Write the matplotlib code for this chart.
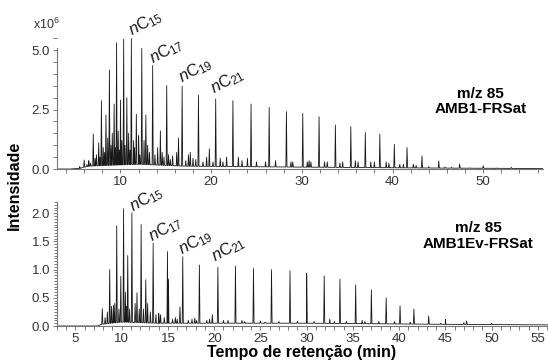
import numpy as np
import matplotlib
matplotlib.use('Agg')
import matplotlib.pyplot as plt
from matplotlib.ticker import MultipleLocator, FormatStrFormatter

plt.rcParams['font.family'] = ['Liberation Sans', 'DejaVu Sans']
plt.rcParams['mathtext.fontset'] = 'custom'
plt.rcParams['mathtext.rm'] = 'Liberation Sans'
plt.rcParams['mathtext.it'] = 'Liberation Sans:italic'
plt.rcParams['mathtext.bf'] = 'Liberation Sans:bold'

# AMB1-FRSat (x10^6) - picos principais
t1_main = [7.0, 7.6, 7.9, 8.4, 8.78, 9.3, 9.57, 10.0, 10.35, 10.7, 11.2, 11.75,
           12.35, 12.8, 13.55, 14.4, 15.1, 16.8, 18.6, 20.5, 22.4, 24.4, 26.4,
           28.3, 30.1, 31.9, 33.7, 35.4, 37.0, 38.6, 40.2, 41.6, 43.25, 45.1,
           47.4, 50.0, 53.1]
h1_main = [1.47, 1.1, 2.87, 2.27, 4.16, 2.73, 5.3, 2.9, 5.45, 3.0, 5.49, 2.3,
           5.07, 2.27, 4.35, 1.6, 3.5, 3.48, 3.1, 2.94, 2.87, 2.73, 2.59,
           2.41, 2.34, 2.2, 1.85, 1.78, 1.53, 1.46, 1.04, 0.9, 0.55, 0.34,
           0.21, 0.14, 0.07]
# picos menores
t1_min = [5.5, 6.0, 6.3, 6.5, 6.7, 7.2, 7.35, 7.75, 8.1, 8.25, 8.6, 8.95, 9.1,
          9.45, 9.75, 9.9, 10.15, 10.5, 10.9, 11.05, 11.45, 11.55, 12.0, 12.15,
          12.6, 13.0, 13.2, 13.8, 14.1, 14.6, 14.8, 15.3, 15.5, 15.75, 16.2,
          16.4, 17.2, 17.5, 17.7, 18.0, 18.3, 19.1, 19.5, 19.8, 20.2, 21.0,
          21.3, 21.7, 23.0, 23.4, 24.0, 25.0, 26.0, 27.1, 28.8, 29.0, 30.6,
          30.8, 31.0, 32.5, 32.8, 34.2, 34.5, 35.9, 36.2, 37.6, 38.0, 39.3,
          39.6, 40.8, 41.2, 42.3, 42.6, 44.0, 45.8, 46.5, 48.5, 51.5]
h1_min = [0.1, 0.38, 0.2, 0.35, 0.25, 0.45, 0.6, 0.5, 0.9, 0.7, 1.3, 1.0, 1.5,
          0.9, 1.6, 0.8, 1.2, 1.0, 1.5, 0.8, 1.2, 0.9, 1.4, 0.6,
          1.2, 1.0, 0.7, 0.6, 0.9, 0.7, 0.5, 0.6, 0.4, 0.55, 0.7,
          1.3, 0.35, 0.6, 0.7, 0.45, 0.4, 0.3, 0.5, 0.85, 0.3, 0.45,
          0.3, 0.5, 0.5, 0.35, 0.45, 0.3, 0.3, 0.35, 0.3, 0.3, 0.3,
          0.35, 0.3, 0.3, 0.3, 0.25, 0.3, 0.35, 0.3, 0.3, 0.3, 0.3,
          0.25, 0.2, 0.2, 0.2, 0.15, 0.1, 0.08, 0.07, 0.05, 0.04]
base1_t = [3.0, 4.5, 5.5, 6.5, 12.0, 17.0, 30.0, 45.0, 56.6]
base1_y = [0.0, 0.0, 0.03, 0.12, 0.2, 0.12, 0.08, 0.04, 0.02]

# AMB1Ev-FRSat
t2_main = [7.9, 8.7, 9.46, 10.2, 10.65, 11.1, 12.1, 13.4, 14.95, 16.6, 18.4,
           20.4, 22.3, 24.25, 26.2, 28.2, 30.0, 31.9, 33.6, 35.3, 37.0, 38.6,
           40.1, 41.6, 43.2, 45.0, 47.3, 50.0]
h2_main = [0.31, 1.0, 1.78, 2.08, 1.25, 2.01, 1.8, 1.47, 1.32, 1.23, 1.08,
           1.04, 1.06, 1.02, 1.0, 0.98, 0.94, 0.89, 0.83, 0.73, 0.64, 0.5,
           0.36, 0.3, 0.18, 0.12, 0.09, 0.05]
t2_min = [8.2, 8.45, 8.9, 9.1, 9.25, 9.7, 9.9, 10.4, 10.5, 10.85, 11.45, 11.65,
          11.9, 12.35, 12.6, 12.8, 13.1, 13.7, 14.0, 14.2, 14.6, 15.05, 15.5,
          15.8, 16.0, 16.3, 17.2, 17.6, 17.9, 18.1, 19.2, 19.5, 19.8, 21.0,
          21.5, 23.0, 23.3, 25.0, 25.5, 27.0, 29.0, 30.8, 32.5, 33.0, 34.3,
          36.0, 36.3, 37.8, 39.5, 41.2, 44.5, 47.0]
h2_min = [0.15, 0.25, 0.35, 0.37, 0.4, 0.3, 0.88, 0.6, 0.35, 0.3, 0.4, 0.59,
          0.3, 0.3, 0.82, 0.4, 0.25, 0.2, 0.23, 0.2, 0.15, 0.83, 0.12,
          0.15, 0.12, 0.34, 0.1, 0.12, 0.14, 0.1, 0.1, 0.12, 0.2, 0.1,
          0.1, 0.1, 0.08, 0.09, 0.07, 0.08, 0.08, 0.08, 0.12, 0.08, 0.08,
          0.1, 0.08, 0.08, 0.08, 0.07, 0.05, 0.06]
base2_t = [3.0, 7.4, 7.8, 10.0, 14.0, 30.0, 45.0, 56.1]
base2_y = [0.0, 0.0, 0.03, 0.07, 0.05, 0.05, 0.03, 0.02]

labels = [r'$\mathit{n}$C$_{15}$', r'$\mathit{n}$C$_{17}$',
          r'$\mathit{n}$C$_{19}$', r'$\mathit{n}$C$_{21}$']
lab1_x = [11.3, 13.6, 16.8, 20.3]
lab1_y = [5.59, 4.41, 3.6, 3.15]
lab2_x = [11.15, 13.3, 16.5, 20.1]
lab2_y = [2.02, 1.49, 1.26, 1.14]


def trace(t_pk, h_pk, bt, by, w=0.06):
    # linha do cromatograma: linha de base + picos estreitos
    pts = list(zip(bt, by))
    for t, h in zip(t_pk, h_pk):
        b = np.interp(t, bt, by)
        pts += [(t - w, b), (t, h), (t + w, b)]
    pts.sort(key=lambda p: p[0])
    x, y = zip(*pts)
    return x, y


fig = plt.figure(figsize=(5.48, 3.63), dpi=100)
ax1 = fig.add_axes([0.104, 0.5344, 0.887, 0.377])
ax2 = fig.add_axes([0.104, 0.1019, 0.896, 0.3416])

x, y = trace(t1_main + t1_min, h1_main + h1_min, base1_t, base1_y)
ax1.plot(x, y, color='#1a1a1a', lw=0.6)
x, y = trace(t2_main + t2_min, h2_main + h2_min, base2_t, base2_y)
ax2.plot(x, y, color='#1a1a1a', lw=0.6)

ax1.set_xlim(3, 56.6)
ax1.set_ylim(0, 5.75)
ax2.set_xlim(3, 56.1)
ax2.set_ylim(0, 2.2)

for ax in (ax1, ax2):
    ax.spines['top'].set_visible(False)
    ax.spines['right'].set_visible(False)
    for s in ('left', 'bottom'):
        ax.spines[s].set_color('#777777')
        ax.spines[s].set_linewidth(0.8)
    ax.tick_params(which='both', direction='out', color='#777777', length=3,
                   width=0.7, labelsize=9.5, labelcolor='#333333', pad=2)
    ax.yaxis.set_major_formatter(FormatStrFormatter('%.1f'))

ax1.spines['left'].set_bounds(0, 5.1)
ax1.xaxis.set_major_locator(MultipleLocator(10))
ax1.xaxis.set_minor_locator(MultipleLocator(2))
ax1.yaxis.set_major_locator(MultipleLocator(2.5))
ax1.yaxis.set_minor_locator(MultipleLocator(0.5))
ax1.set_yticks([0, 2.5, 5.0])

ax2.xaxis.set_major_locator(MultipleLocator(5))
ax2.xaxis.set_minor_locator(MultipleLocator(1))
ax2.yaxis.set_major_locator(MultipleLocator(0.5))
ax2.yaxis.set_minor_locator(MultipleLocator(0.05))
ax2.tick_params(axis='y', which='minor', length=2)

for lab, lx, ly in zip(labels, lab1_x, lab1_y):
    ax1.text(lx, ly, lab, rotation=28, rotation_mode='anchor', ha='left',
             va='baseline', fontsize=12, color='#1a1a1a')
for lab, lx, ly in zip(labels, lab2_x, lab2_y):
    ax2.text(lx, ly, lab, rotation=28, rotation_mode='anchor', ha='left',
             va='baseline', fontsize=12, color='#1a1a1a')

ax1.text(-0.05, 1.0, r'x10$^6$', transform=ax1.transAxes, fontsize=9,
         color='#333333', ha='left', va='bottom')

ax1.text(0.877, 0.72, 'm/z 85\nAMB1-FRSat', transform=fig.transFigure,
         ha='center', va='center', fontsize=11, fontweight='bold',
         linespacing=1.15)
ax2.text(0.873, 0.35, 'm/z 85\nAMB1Ev-FRSat', transform=fig.transFigure,
         ha='center', va='center', fontsize=11, fontweight='bold',
         linespacing=1.15)

fig.text(0.027, 0.49, 'Intensidade', rotation=90, ha='center', va='center',
         fontsize=11.5, fontweight='bold')
fig.text(0.55, 0.03, 'Tempo de retenção (min)', ha='center', va='center',
         fontsize=11.5, fontweight='bold')

fig.savefig('out.png', dpi=100)
